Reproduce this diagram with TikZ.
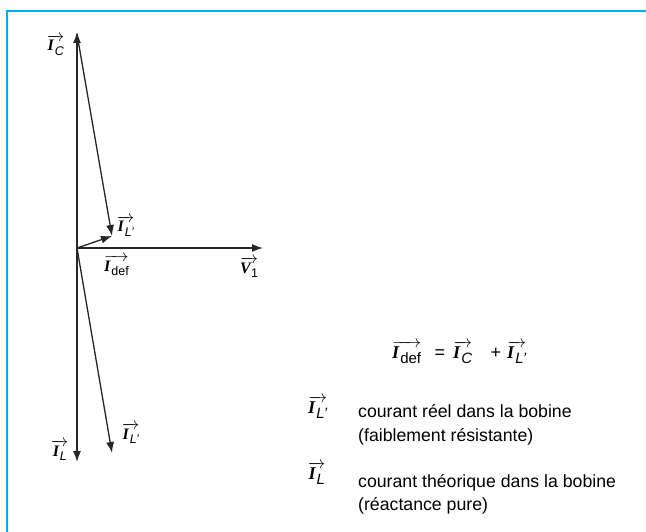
\documentclass[tikz,border=0pt]{standalone}
\usepackage{fontspec}
\setmainfont{Liberation Sans}
\newfontfamily\ifont{Liberation Serif}
\usetikzlibrary{arrows.meta}
% vector symbol: #1 = subscript size (pt), #2 = subscript
\newcommand\vecI[2]{$\overrightarrow{\hbox{{\ifont\bfseries\itshape I}\kern0.06em\raisebox{-0.28em}{\fontsize{#1}{#1}\selectfont #2}}}$}
\begin{document}
\begin{tikzpicture}[x=1pt,y=-1pt,
  vec/.style={line width=1.3pt, draw=black!85, -{Latex[length=11pt,width=8pt]}},
  lab/.style={inner sep=0pt, anchor=base west, font=\fontsize{16}{18}\selectfont},
  big/.style={inner sep=0pt, anchor=base west, font=\fontsize{18}{20}\selectfont},
  txt/.style={inner sep=0pt, anchor=base west, font=\fontsize{17.7}{20}\selectfont}]
\useasboundingbox (0,0) rectangle (646,532);
\fill[white] (0,0) rectangle (646,532);
% frame
\draw[cyan, line width=1.5pt] (7,532) -- (7,11) -- (646,11);
% points
\coordinate (O) at (77,248);
\coordinate (C) at (77,32);
\coordinate (L) at (77,462);
\coordinate (V) at (263,248);
\coordinate (D) at (112,236);
\coordinate (Cs) at (77,34);
\coordinate (Lp) at (112,453);
% vectors
\draw[vec] (O) -- (C);
\draw[vec] (O) -- (L);
\draw[vec] (O) -- (V);
\draw[vec] (Cs) -- (D);
\draw[vec] (O) -- (D);
\draw[vec] (O) -- (Lp);
% diagram labels
\node[lab] (lC) at (47,51) {\vecI{12.5}{\itshape C}};
\node[lab] (lLp1) at (117,232) {\vecI{12.5}{\itshape L'}};
\node[lab] (ldef) at (104,271) {\vecI{12.5}{def}};
\node[lab] (lV) at (240,273) {$\overrightarrow{\hbox{{\ifont\bfseries\itshape V}\kern0.02em\raisebox{-0.28em}{\fontsize{12.5}{12.5}\selectfont 1}}}$};
\node[lab] (lL) at (51,456) {\vecI{12.5}{\itshape L}};
\node[lab] (lLp2) at (122,439) {\vecI{12.5}{\itshape L'}};
% equation
\node[big] (e1) at (392,358) {\vecI{15}{def}};
\node[big, anchor=base] (e2) at (440,358) {=};
\node[big] (e3) at (453,358) {\vecI{15}{\itshape C}};
\node[big, anchor=base] (e4) at (496,358) {+};
\node[big] (e5) at (507,358) {\vecI{15}{\itshape L'}};
% legend
\node[big] (s1) at (308,413) {\vecI{15}{\itshape L'}};
\node[txt] (t1) at (358,417) {courant réel dans la bobine};
\node[txt] (t2) at (358,441) {(faiblement résistante)};
\node[big] (s2) at (308,479) {\vecI{15}{\itshape L}};
\node[txt] (t3) at (358,487) {courant théorique dans la bobine};
\node[txt] (t4) at (358,510) {(réactance pure)};
\end{tikzpicture}
\end{document}
